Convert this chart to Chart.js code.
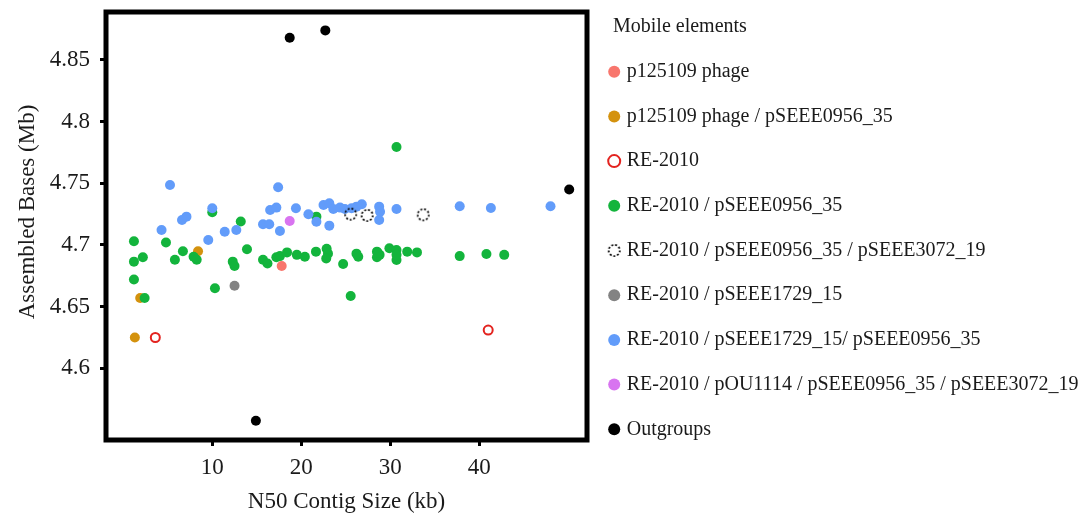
<!DOCTYPE html>
<html>
<head>
<meta charset="utf-8">
<script src="https://cdn.jsdelivr.net/npm/chart.js@4"></script>
<style>
  html, body { margin: 0; padding: 0; background: #fff; }
  #wrap { position: relative; width: 1079px; height: 513px; }
</style>
</head>
<body>
<div id="wrap"><canvas id="c" width="1079" height="513"></canvas></div>
<script>
// ---- data ----
const seriesNames = [
  "p125109 phage",
  "p125109 phage / pSEEE0956_35",
  "RE-2010",
  "RE-2010 / pSEEE0956_35",
  "RE-2010 / pSEEE0956_35 / pSEEE3072_19",
  "RE-2010 / pSEEE1729_15",
  "RE-2010 / pSEEE1729_15/ pSEEE0956_35",
  "RE-2010 / pOU1114 / pSEEE0956_35 / pSEEE3072_19",
  "Outgroups"
];
const phageX = [17.8];
const phageY = [4.683];
const phagePlasmidX = [8.4, 1.9, 1.3];
const phagePlasmidY = [4.695, 4.657, 4.625];
const re2010X = [3.6, 41.0];
const re2010Y = [4.625, 4.631];
const reP0956X = [10.0, 1.2, 4.8, 1.2, 2.2, 1.2, 2.4, 5.8, 6.7, 7.9, 8.25, 10.3, 13.2, 12.3, 12.5, 13.9, 15.7, 16.2, 17.2, 17.6, 18.4, 19.5, 20.4, 21.7, 21.65, 22.85, 23.0, 22.8, 24.7, 25.55, 26.4, 28.5, 28.8, 28.5, 28.6, 29.9, 30.7, 30.7, 30.7, 31.9, 33.0, 37.8, 40.8, 42.8, 30.7, 26.2];
const reP0956Y = [4.7265, 4.703, 4.702, 4.6865, 4.690, 4.672, 4.657, 4.688, 4.695, 4.6905, 4.688, 4.665, 4.719, 4.6865, 4.683, 4.6965, 4.688, 4.685, 4.690, 4.691, 4.694, 4.692, 4.6905, 4.723, 4.6946, 4.697, 4.693, 4.689, 4.6846, 4.6586, 4.6905, 4.6946, 4.692, 4.690, 4.6935, 4.6973, 4.696, 4.6878, 4.692, 4.6946, 4.694, 4.691, 4.6927, 4.692, 4.7795, 4.693];
const reP0956P3072X = [25.55, 27.4, 33.7];
const reP0956P3072Y = [4.725, 4.724, 4.7245];
const reP1729X = [12.5];
const reP1729Y = [4.667];
const reP1729P0956X = [5.25, 17.4, 10.0, 6.6, 7.1, 4.3, 9.55, 11.4, 12.7, 15.7, 16.4, 16.5, 17.2, 17.6, 19.4, 20.8, 21.7, 23.15, 22.5, 23.15, 23.6, 24.35, 24.9, 25.65, 26.2, 26.8, 28.75, 28.85, 28.75, 30.7, 37.8, 41.3, 48.0];
const reP1729P0956Y = [4.7487, 4.7468, 4.7298, 4.7203, 4.723, 4.7122, 4.7041, 4.7108, 4.7122, 4.7168, 4.7168, 4.7284, 4.7303, 4.7114, 4.7298, 4.7249, 4.7189, 4.7157, 4.7324, 4.7338, 4.7292, 4.7303, 4.7292, 4.7298, 4.7311, 4.733, 4.7311, 4.727, 4.7203, 4.7292, 4.7314, 4.730, 4.7314];
const pou1114X = [18.7];
const pou1114Y = [4.7195];
const outgroupX = [18.7, 22.7, 50.1, 14.9];
const outgroupY = [4.868, 4.874, 4.745, 4.5575];

const xTickValues = [10, 20, 30, 40];
const yTickValues = [4.6, 4.65, 4.7, 4.75, 4.8, 4.85];
const yTickLabels = ["4.6", "4.65", "4.7", "4.75", "4.8", "4.85"];

// ---- helpers ----
function pts(xs, ys) { return xs.map((x, i) => ({ x: x, y: ys[i] })); }

function dottedCircle() {
  const cv = document.createElement('canvas');
  cv.width = 15; cv.height = 15;
  const g = cv.getContext('2d');
  g.strokeStyle = '#000';
  g.lineWidth = 1.7;
  g.setLineDash([1.9, 1.9]);
  g.beginPath();
  g.arc(7.5, 7.5, 5.6, 0, Math.PI * 2);
  g.stroke();
  return cv;
}
const dotImg = dottedCircle();

const FONT = "'Liberation Serif', 'Times New Roman', serif";

function ds(i, data, color, extra) {
  return Object.assign({
    label: seriesNames[i],
    data: data,
    pointStyle: 'circle',
    pointRadius: 5,
    pointHoverRadius: 5,
    pointBackgroundColor: color,
    pointBorderColor: color,
    pointBorderWidth: 0,
    backgroundColor: color,
    borderColor: color,
    showLine: false,
    order: 0
  }, extra || {});
}

const datasets = [
  ds(0, pts(phageX, phageY), '#F8766D'),
  ds(1, pts(phagePlasmidX, phagePlasmidY), '#D4920E', { order: 5 }),
  ds(2, pts(re2010X, re2010Y), '#E3231F', { pointBackgroundColor: '#ffffff', backgroundColor: '#ffffff', pointBorderWidth: 2, pointRadius: 4.5 }),
  ds(3, pts(reP0956X, reP0956Y), '#13B43C', { order: 4 }),
  ds(4, pts(reP0956P3072X, reP0956P3072Y), '#000000', { pointStyle: dotImg }),
  ds(5, pts(reP1729X, reP1729Y), '#838383'),
  ds(6, pts(reP1729P0956X, reP1729P0956Y), '#629CFA', { order: 3 }),
  ds(7, pts(pou1114X, pou1114Y), '#D874F0'),
  ds(8, pts(outgroupX, outgroupY), '#000000')
];

const framePlugin = {
  id: 'frame',
  beforeDraw(chart) {
    const lg = chart.legend;
    if (lg && !lg.__patched) {
      const orig = lg.drawTitle;
      lg.drawTitle = function () {
        const l = this.left;
        this.left = l + 26;
        orig.call(this);
        this.left = l;
      };
      lg.__patched = true;
    }
    const ys = chart.scales.y;
    if (ys && !ys.__patched) {
      const origT = ys.drawTitle;
      ys.drawTitle = function () {
        const b = this.bottom;
        this.bottom = b - 28;
        origT.call(this);
        this.bottom = b;
      };
      ys.__patched = true;
    }
  },
  afterDraw(chart) {
    const a = chart.chartArea;
    const ctx = chart.ctx;
    ctx.save();
    ctx.strokeStyle = '#000';
    ctx.lineWidth = 5;
    ctx.strokeRect(a.left, a.top, a.right - a.left, a.bottom - a.top);
    ctx.restore();
  }
};

const legendWidthPlugin = {
  id: 'legendWidth',
  afterInit(chart) {
    const lg = chart.legend;
    if (lg && !lg.__fitPatched) {
      const origFit = lg.fit;
      lg.fit = function () {
        origFit.call(this);
        this.width = 492;
      };
      lg.__fitPatched = true;
    }
  }
};

new Chart(document.getElementById('c'), {
  type: 'scatter',
  data: { datasets: datasets },
  plugins: [legendWidthPlugin, framePlugin],
  options: {
    responsive: false,
    animation: false,
    devicePixelRatio: 1,
    layout: { padding: { top: 12, left: 0, right: 0, bottom: 0 } },
    scales: {
      x: {
        type: 'linear',
        min: -1.94,
        max: 52.1,
        afterFit(scale) { scale.height = 73; scale.paddingLeft = 0; scale.paddingRight = 0; },
        afterBuildTicks(scale) { scale.ticks = xTickValues.map(v => ({ value: v })); },
        grid: { display: true, drawOnChartArea: false, drawTicks: true, tickLength: 6, tickWidth: 3, tickColor: '#000' },
        border: { display: false },
        ticks: { color: '#1a1a1a', font: { family: FONT, size: 23 }, padding: 8, maxRotation: 0 },
        title: { display: true, text: 'N50 Contig Size (kb)', color: '#1a1a1a', font: { family: FONT, size: 23 }, padding: { top: 0, bottom: -3 } }
      },
      y: {
        type: 'linear',
        min: 4.5419,
        max: 4.8889,
        afterFit(scale) { scale.width = 106; scale.paddingTop = 0; scale.paddingBottom = 0; },
        afterBuildTicks(scale) { scale.ticks = yTickValues.map(v => ({ value: v })); },
        grid: { display: true, drawOnChartArea: false, drawTicks: true, tickLength: 6, tickWidth: 3, tickColor: '#000' },
        border: { display: false },
        ticks: {
          color: '#1a1a1a', font: { family: FONT, size: 23 }, padding: 10,
          callback(v) { const i = yTickValues.findIndex(t => Math.abs(t - v) < 1e-9); return i >= 0 ? yTickLabels[i] : ''; }
        },
        title: { display: true, text: 'Assembled Bases (Mb)', color: '#1a1a1a', font: { family: FONT, size: 23 }, padding: { top: 14, bottom: 0 } }
      }
    },
    plugins: {
      tooltip: { enabled: false },
      legend: {
        display: true,
        position: 'right',
        align: 'start',
        title: {
          display: true,
          text: 'Mobile elements',
          position: 'start',
          color: '#1a1a1a',
          font: { family: FONT, size: 20, lineHeight: 1 },
          padding: { top: 5, bottom: 0 }
        },
        labels: {
          usePointStyle: true,
          boxWidth: 5,
          boxHeight: 8.5,
          padding: 24.7,
          color: '#1a1a1a',
          font: { family: FONT, size: 20 },
          sort(a, b) { return a.datasetIndex - b.datasetIndex; }
        }
      }
    }
  }
});
</script>
</body>
</html>
